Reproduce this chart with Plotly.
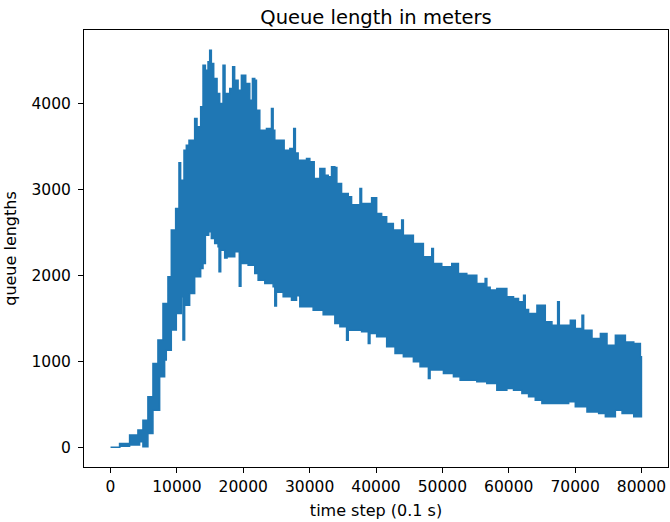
import plotly.graph_objects as go

# Upper envelope of the queue-length signal (time step, meters)
upper_steps = [0, 1360, 2870, 4125, 4880, 5630, 6390, 7140, 7900, 8650, 9155, 9810, 10310, 10560,
               11067, 11420, 11820, 12675, 13030, 13580, 13935, 14290, 14690, 14940, 15190, 15545,
               16050, 16450, 16950, 17250, 17960, 18400, 18700, 19220, 19720, 20370, 20980, 21380,
               21730, 21985, 22490, 23495, 24250, 24500, 24750, 25760, 26160, 27015, 27600, 27850,
               28270, 29530, 30030, 30687, 31540, 32297, 32800, 33300, 33800, 34100, 34812, 35818,
               36320, 37580, 37830, 38333, 39340, 40100, 40850, 41608, 42614, 43870, 44120, 44626,
               45632, 47140, 48400, 48650, 49908, 51417, 52420, 53680, 55190, 56446, 56700, 57200,
               58207, 59716, 60722, 61475, 62240, 62490, 62990, 64250, 65510, 66510, 67370, 67620,
               69280, 70030, 71040, 71290, 72550, 73810, 74810, 76070, 77580, 78840, 79840, 80000]
upper_vals = [0, 43, 140, 198, 314, 586, 973, 1245, 1671, 1981, 2524, 2776, 3306, 3105,
              3454, 3512, 3570, 3822, 3725, 3957, 4442, 4384, 4481, 4616, 4461, 4287,
              4113, 3996, 4442, 4113, 4171, 4423, 4268, 4151, 4326, 4229, 4035, 4287,
              4268, 3919, 3686, 3705, 3938, 3686, 3570, 3570, 3453, 3473, 3705, 3420,
              3337, 3357, 3318, 3124, 3240, 3163, 3144, 3260, 3252, 3066, 2950, 2911,
              2820, 3008, 2833, 2833, 2900, 2717, 2679, 2601, 2524, 2640, 2465, 2465,
              2368, 2213, 2310, 2136, 2097, 2136, 2020, 2000, 1903, 1962, 1860, 1826,
              1845, 1748, 1729, 1690, 1767, 1600, 1554, 1651, 1457, 1418, 1690, 1418,
              1476, 1379, 1534, 1360, 1263, 1321, 1186, 1302, 1224, 1205, 1050, 1050]

# Lower envelope of the same signal
lower_steps = [0, 1400, 2870, 4376, 4880, 5630, 6390, 7400, 8150, 8400, 9155, 9910, 10665, 10915,
               11165, 11920, 12675, 13580, 13935, 14290, 14790, 15190, 15695, 16200, 16350, 16600,
               17200, 17555, 18716, 19400, 19650, 20730, 21730, 22237, 23243, 24500, 24750, 25000,
               26010, 27267, 28022, 28520, 29280, 30530, 32040, 33800, 34560, 35567, 35820, 37830,
               38836, 39093, 40100, 41608, 42865, 44123, 45632, 46638, 47895, 48150, 50160, 51668,
               52675, 55190, 56698, 58207, 59716, 60722, 61986, 62990, 63998, 65000, 67520, 69030,
               70030, 71790, 73550, 74560, 76070, 77080, 78840, 80000]
lower_vals = [0, 10, 24, 62, 4, 160, 430, 818, 1012, 1128, 1361, 1555, 1748, 1245,
              1650, 1787, 1981, 2078, 2136, 2465, 2504, 2427, 2368, 2330, 2039, 2291,
              2200, 2213, 2271, 1870, 2136, 2116, 2020, 1942, 1903, 1865, 1640, 1800,
              1748, 1709, 1760, 1632, 1632, 1593, 1540, 1438, 1399, 1244, 1360, 1341,
              1205, 1322, 1283, 1167, 1090, 1051, 993, 934, 799, 896, 857, 818,
              779, 760, 741, 663, 682, 663, 624, 585, 546, 507, 507, 527,
              469, 410, 391, 352, 430, 391, 352, 391]

x_ticks = [0, 10000, 20000, 30000, 40000, 50000, 60000, 70000, 80000]
x_tick_labels = [str(v) for v in x_ticks]
y_ticks = [0, 1000, 2000, 3000, 4000]
y_tick_labels = [str(v) for v in y_ticks]

color = "#1f77b4"
font = "DejaVu Sans"


def staircase(xs, ys):
    """Hold each value until the next time step (step-after rendering)."""
    sx, sy = [xs[0]], [ys[0]]
    for i in range(1, len(xs)):
        sx += [xs[i], xs[i]]
        sy += [ys[i - 1], ys[i]]
    return sx, sy


lx, ly = staircase(lower_steps, lower_vals)
ux, uy = staircase(upper_steps, upper_vals)

fig = go.Figure()
fig.add_trace(go.Scatter(x=ux + lx[::-1], y=uy + ly[::-1], mode="lines", fill="toself",
                         fillcolor=color, line=dict(color=color, width=1.5, simplify=False),
                         showlegend=False))

axis_common = dict(showgrid=False, zeroline=False, showline=True, mirror=True,
                   linecolor="black", linewidth=1, ticks="outside", ticklen=5,
                   tickcolor="black", automargin=False,
                   tickfont=dict(family=font, size=15.5, color="black"))

fig.update_layout(
    width=670, height=522,
    margin=dict(l=84, r=2, t=30, b=55),
    paper_bgcolor="white", plot_bgcolor="white",
    font=dict(family=font, color="black"),
    title=dict(text="Queue length in meters", x=0.5, xref="paper", xanchor="center",
               y=1, yref="paper", yanchor="bottom", pad=dict(b=6),
               font=dict(family=font, size=19.5, color="black")),
    xaxis=dict(range=[-4000, 84000], tickvals=x_ticks, ticktext=x_tick_labels,
               title=dict(text="time step (0.1 s)", font=dict(family=font, size=16), standoff=10),
               **axis_common),
    yaxis=dict(range=[-231, 4851], tickvals=y_ticks, ticktext=y_tick_labels,
               ticklabelstandoff=4,
               title=dict(text="queue lengths", font=dict(family=font, size=16), standoff=10),
               **axis_common),
)

fig.write_html("out.html")
